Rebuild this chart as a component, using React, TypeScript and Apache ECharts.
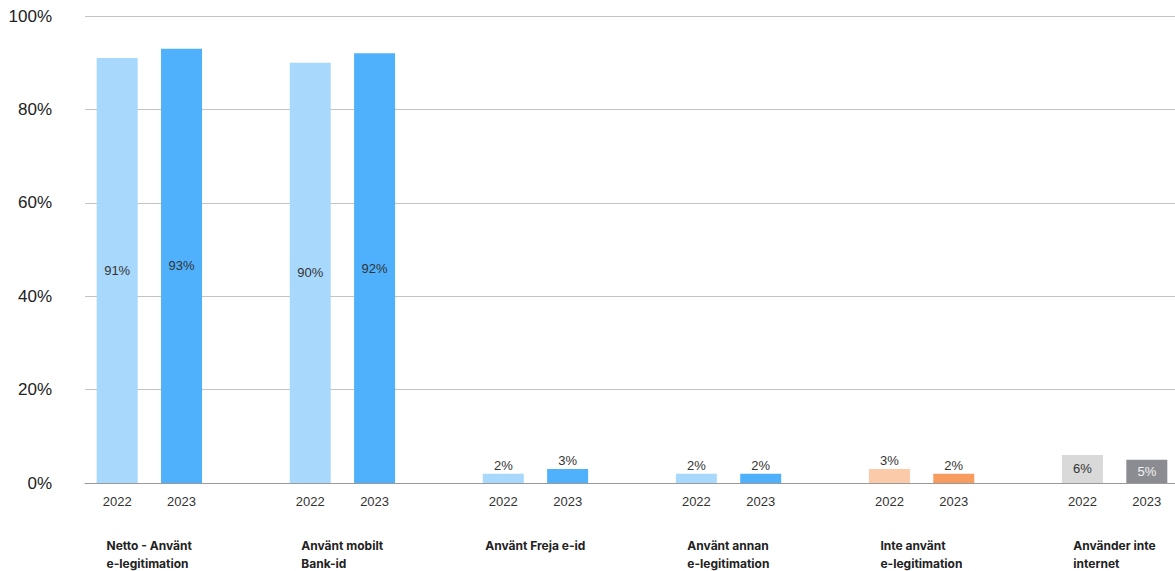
import React, { useEffect, useRef } from "react";
import * as echarts from "echarts";

const groupNames = [
  "Netto - Använt\ne-legitimation",
  "Använt mobilt\nBank-id",
  "Använt Freja e-id",
  "Använt annan\ne-legitimation",
  "Inte använt\ne-legitimation",
  "Använder inte\ninternet",
];
const yearLabels = ["2022", "2023"];
const values2022 = [91, 90, 2, 2, 3, 6];
const values2023 = [93, 92, 3, 2, 2, 5];
const colors2022 = ["#a8d8fc", "#a8d8fc", "#a8d8fc", "#a8d8fc", "#fbcaa9", "#d9d9d9"];
const colors2023 = ["#4fb0fc", "#4fb0fc", "#4fb0fc", "#4fb0fc", "#f89b5f", "#8b8c91"];
const labelInside = [true, true, false, false, false, true];
const labelColors2022 = ["#333", "#333", "#333", "#333", "#333", "#333"];
const labelColors2023 = ["#333", "#333", "#333", "#333", "#333", "#f2f2f2"];
const yTicks = [0, 20, 40, 60, 80, 100];

export default function App() {
  const ref = useRef<HTMLDivElement>(null);
  useEffect(() => {
    if (!ref.current) return;
    const chart = echarts.init(ref.current, null, { renderer: "svg" });

    const slots: string[] = [];
    const groupSlots: string[] = [];
    const data: any[] = [];
    groupNames.forEach((g, i) => {
      const vals = [values2022[i], values2023[i]];
      const cols = [colors2022[i], colors2023[i]];
      const lcols = [labelColors2022[i], labelColors2023[i]];
      vals.forEach((v, j) => {
        slots.push(yearLabels[j]);
        groupSlots.push(j === 0 ? g : "");
        data.push({
          value: v,
          itemStyle: { color: cols[j] },
          label: {
            position: labelInside[i] ? "inside" : "top",
            color: lcols[j],
            distance: 2,
          },
        });
      });
      if (i < groupNames.length - 1) {
        slots.push("");
        groupSlots.push("");
        data.push(null);
      }
    });

    chart.setOption({
      animation: false,
      grid: {
        left: 85,
        right: -4,
        top: 16,
        bottom: 88,
        containLabel: false,
        outerBoundsMode: "none",
      },
      xAxis: [
        {
          type: "category",
          data: slots,
          axisLine: { show: true, lineStyle: { color: "#9a9a9a", width: 1 } },
          axisTick: { show: false },
          axisLabel: {
            interval: 0,
            margin: 12,
            fontSize: 13,
            color: "#333",
            fontFamily: "Liberation Sans, Arial, sans-serif",
          },
        },
        {
          type: "category",
          data: groupSlots,
          position: "bottom",
          axisLine: { show: false },
          axisTick: { show: false },
          axisLabel: {
            interval: 0,
            margin: 54,
            padding: [0, 0, 0, 64],
            align: "center",
            formatter: (v: string) =>
              v ? v.split("\n").map((s) => `{l|${s}}`).join("\n") : "",
            rich: {
              l: {
                align: "left",
                fontSize: 12,
                fontWeight: "bold",
                color: "#222",
                lineHeight: 17.5,
                fontFamily: "Inter, Lato, sans-serif",
              },
            },
          },
        },
      ],
      yAxis: {
        type: "value",
        min: yTicks[0],
        max: yTicks[yTicks.length - 1],
        interval: 20,
        axisLine: { show: false },
        axisTick: { show: false },
        splitLine: { lineStyle: { color: "#c4c4c4", width: 1 } },
        axisLabel: {
          formatter: "{value}%",
          fontSize: 17,
          color: "#222",
          margin: 33,
          fontFamily: "Liberation Sans, Arial, sans-serif",
        },
      },
      series: [
        {
          type: "bar",
          xAxisIndex: 0,
          barWidth: 41,
          data,
          label: {
            show: true,
            formatter: "{c}%",
            fontSize: 13,
            fontFamily: "Liberation Sans, Arial, sans-serif",
          },
        },
      ],
    });
    return () => chart.dispose();
  }, []);
  return (
    <div
      ref={ref}
      style={{ position: "absolute", left: 0, top: 0, width: 1175, height: 571 }}
    />
  );
}
